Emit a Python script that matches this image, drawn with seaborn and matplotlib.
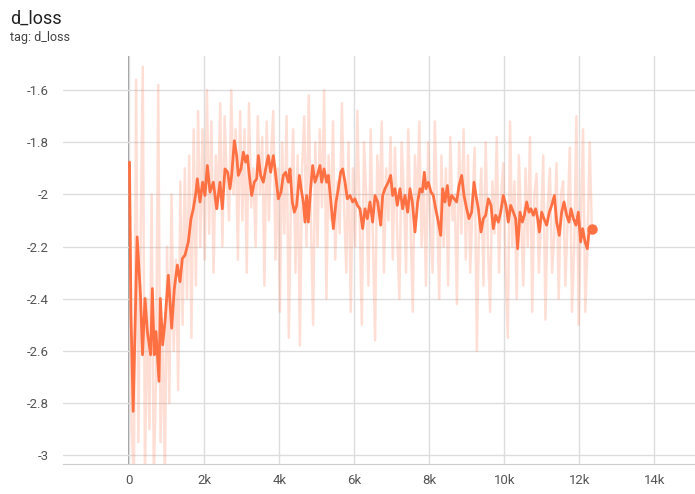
import numpy as np
import pandas as pd
import matplotlib
matplotlib.use("Agg")
import matplotlib.pyplot as plt
import seaborn as sns

# smoothed d_loss curve
smooth_steps = [0, 40, 98, 204, 293, 347, 413, 476, 564, 609, 662, 707, 787, 822, 884, 947,
                1036, 1124, 1196, 1276, 1347, 1409, 1480, 1569, 1640, 1702, 1773, 1809, 1880, 1951,
                2013, 2076, 2147, 2236, 2324, 2413, 2476, 2547, 2618, 2680, 2724, 2796, 2858, 2902,
                2973, 3036, 3098, 3142, 3196, 3258, 3329, 3391, 3436, 3498, 3569, 3631, 3702, 3764,
                3836, 3880, 3969, 4040, 4102, 4164, 4236, 4280, 4342, 4396, 4458, 4529, 4591, 4636,
                4680, 4724, 4769, 4831, 4884, 4947, 5009, 5080, 5124, 5187, 5258, 5302, 5364, 5436,
                5507, 5569, 5631, 5684, 5747, 5809, 5880, 5951, 6013, 6076, 6147, 6218, 6280, 6342,
                6413, 6484, 6547, 6618, 6698, 6751, 6813, 6902, 6964, 7018, 7080, 7142, 7213, 7284,
                7347, 7418, 7480, 7542, 7613, 7684, 7747, 7809, 7862, 7907, 7969, 8040, 8102, 8164,
                8236, 8298, 8351, 8413, 8476, 8529, 8591, 8662, 8724, 8787, 8858, 8920, 8991, 9053,
                9124, 9187, 9240, 9302, 9373, 9436, 9498, 9569, 9640, 9702, 9764, 9836, 9898, 9969,
                10040, 10102, 10164, 10236, 10298, 10351, 10413, 10476, 10529, 10591, 10653, 10707,
                10769, 10831, 10884, 10929, 10991, 11053, 11124, 11196, 11258, 11329, 11391, 11462,
                11524, 11587, 11658, 11720, 11773, 11836, 11907, 11969, 12031, 12084, 12147, 12209,
                12262, 12324]
smooth_vals = [-1.876, -2.462, -2.832, -2.163, -2.386, -2.615, -2.399, -2.526, -2.615, -2.361,
               -2.615, -2.526, -2.717, -2.399, -2.577, -2.488, -2.31, -2.513, -2.361, -2.271,
               -2.335, -2.246, -2.233, -2.182, -2.093, -2.055, -1.991, -1.94, -2.029, -1.953,
               -2.004, -1.889, -1.991, -1.953, -2.055, -1.953, -2.055, -1.902, -1.915, -1.978,
               -1.927, -1.794, -1.851, -1.927, -1.902, -1.838, -1.876, -1.851, -1.927, -2.004,
               -1.953, -1.94, -1.851, -1.927, -1.953, -1.902, -1.851, -1.915, -1.851, -1.902,
               -2.017, -1.991, -1.927, -1.915, -1.953, -1.902, -2.029, -2.068, -2.042, -1.927,
               -1.991, -2.029, -2.106, -2.004, -2.106, -1.978, -1.889, -1.953, -1.927, -1.889,
               -1.953, -1.902, -1.953, -1.927, -2.017, -2.131, -2.029, -1.978, -1.915, -1.902,
               -1.953, -2.017, -2.004, -2.029, -2.017, -2.042, -2.055, -2.131, -2.055, -2.093,
               -2.029, -2.106, -2.004, -2.029, -2.118, -2.004, -1.978, -1.953, -1.927, -2.004,
               -1.978, -2.042, -1.978, -2.055, -2.004, -2.068, -1.978, -2.029, -2.144, -2.029,
               -1.978, -1.991, -1.915, -1.978, -1.953, -1.991, -2.004, -2.055, -2.106, -2.157,
               -1.978, -2.029, -1.966, -2.042, -2.004, -2.017, -2.029, -1.966, -1.927, -2.004,
               -2.055, -2.093, -2.068, -1.953, -2.004, -2.055, -2.144, -2.093, -2.080, -2.017,
               -2.042, -2.131, -2.080, -2.106, -2.068, -2.004, -2.042, -2.106, -2.042, -2.068,
               -2.093, -2.208, -2.068, -2.106, -2.080, -2.029, -2.068, -2.055, -2.080, -2.055,
               -2.093, -2.144, -2.068, -2.093, -2.118, -2.068, -2.042, -2.004, -2.106, -2.157,
               -2.068, -2.029, -2.080, -2.106, -2.055, -2.093, -2.118, -2.068, -2.182, -2.131,
               -2.182, -2.208, -2.131, -2.131]

# raw d_loss values, logged every 59 steps (estimated from the faint band)
raw_interval = 59
raw_vals = [-1.88, -2.9, -3.1, -1.56, -2.95, -2.2, -1.51, -3.1, -2.4, -2.9, -2.0, -3.1, -2.7, -1.58, -2.95, -2.5, -3.1,
            -2.2, -2.8, -2.0, -2.6, -2.25, -2.75, -1.95, -2.5, -1.9, -2.4, -1.85, -2.55, -1.75, -2.35, -1.68, -2.2, -1.75,
            -2.25, -1.6, -2.15, -1.72, -2.3, -1.85, -2.05, -1.65, -2.2, -1.7, -1.95, -2.1, -1.6, -2.0, -1.75, -2.25, -1.68,
            -2.1, -1.75, -2.3, -1.65, -2.05, -1.9, -2.2, -1.7, -2.0, -1.78, -2.35, -1.72, -2.1, -1.85, -1.68, -2.25, -1.9,
            -2.45, -1.8, -2.15, -1.7, -2.55, -2.0, -1.75, -2.3, -1.85, -2.58, -1.9, -1.7, -2.2, -1.62, -2.1, -2.5, -1.8,
            -2.2, -1.75, -2.05, -1.6, -2.4, -1.85, -2.1, -1.72, -2.25, -1.95, -2.15, -1.65, -2.05, -2.3, -1.8, -2.45, -1.9,
            -2.2, -1.68, -2.1, -2.5, -1.8, -2.0, -2.35, -1.75, -2.15, -2.56, -1.85, -2.05, -1.72, -2.3, -1.9, -2.1, -1.78,
            -2.25, -1.82, -2.15, -2.4, -1.8, -2.0, -2.3, -1.75, -2.1, -2.45, -1.85, -2.05, -1.72, -2.2, -1.95, -2.35, -1.8,
            -2.1, -2.3, -1.72, -2.05, -2.4, -1.85, -2.2, -1.9, -2.35, -1.78, -2.1, -2.0, -2.42, -1.8, -2.15, -1.75, -2.25,
            -1.85, -2.3, -2.05, -1.82, -2.6, -2.1, -1.9, -2.35, -1.8, -2.2, -2.45, -1.95, -2.15, -1.78, -2.3, -2.0, -1.88,
            -2.3, -2.55, -1.72, -2.2, -1.95, -2.4, -1.85, -2.1, -2.35, -1.9, -2.2, -1.78, -2.45, -2.0, -1.92, -2.3, -2.1,
            -1.85, -2.48, -2.05, -1.9, -2.3, -2.15, -1.88, -2.4, -2.0, -1.95, -2.35, -2.1, -1.82, -2.45, -2.2, -1.7, -2.5,
            -2.1, -1.75, -2.45, -2.2, -1.8, -2.15]

x_ticks = [0, 2000, 4000, 6000, 8000, 10000, 12000, 14000]
x_tick_labels = ["0", "2k", "4k", "6k", "8k", "10k", "12k", "14k"]
y_ticks = [-3, -2.8, -2.6, -2.4, -2.2, -2, -1.8, -1.6]
y_tick_labels = ["-3", "-2.8", "-2.6", "-2.4", "-2.2", "-2", "-1.8", "-1.6"]

raw_df = pd.DataFrame({"step": np.arange(len(raw_vals)) * raw_interval, "value": raw_vals})
smooth_df = pd.DataFrame({"step": smooth_steps, "value": smooth_vals})

sns.set_style("white")
plt.rcParams["font.family"] = ["Roboto", "DejaVu Sans"]

color = "#ff7043"
fig = plt.figure(figsize=(6.95, 4.94), dpi=100)
ax = fig.add_axes([63 / 695, 30 / 494, 1 - 63 / 695, 408 / 494])

sns.lineplot(data=raw_df, x="step", y="value", ax=ax, color=color, alpha=0.22,
             linewidth=1.8, estimator=None)
sns.lineplot(data=smooth_df, x="step", y="value", ax=ax, color=color,
             linewidth=2.0, estimator=None)
ax.plot(smooth_steps[-1], smooth_vals[-1], "o", color=color, markersize=6.5)

ax.set_xlim(-1773, 15080)
ax.set_ylim(-3.034, -1.469)
ax.set_xticks(x_ticks)
ax.set_xticklabels(x_tick_labels)
ax.set_yticks(y_ticks)
ax.set_yticklabels(y_tick_labels)
ax.grid(True, color="#dddddd", linewidth=1.0)
ax.axvline(0, color="#888888", linewidth=1.2, zorder=0.5)
ax.set_xlabel("")
ax.set_ylabel("")
for s in ["top", "right", "left"]:
    ax.spines[s].set_visible(False)
ax.spines["bottom"].set_color("#cccccc")
ax.tick_params(axis="both", length=0, labelsize=9.5, colors="#555555", pad=10)
ax.tick_params(axis="x", pad=7)

fig.text(10 / 695, 1 - 19 / 494, "d_loss", fontsize=13, color="#212121", va="center")
fig.text(10 / 695, 1 - 38 / 494, "tag: d_loss", fontsize=9, color="#424242", va="center")

fig.savefig("out.png", dpi=100)
